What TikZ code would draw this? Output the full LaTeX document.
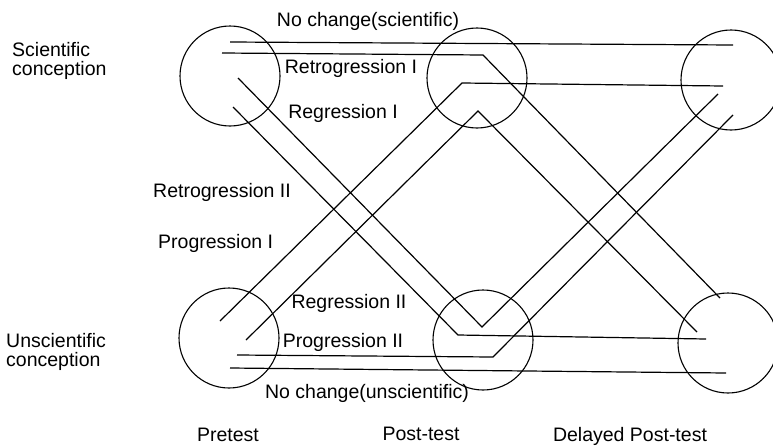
\documentclass[tikz,border=0pt]{standalone}
\usepackage{fontspec}
\setmainfont{Liberation Sans}

\begin{document}
\begin{tikzpicture}[x=1pt,y=-1pt,
    stage/.style={circle,draw,line width=1.1pt,minimum size=100pt,inner sep=0pt},
    lbl/.style={font=\fontsize{19.5}{19.5}\selectfont,inner sep=0pt},
    track/.style={line width=1.2pt}]
    \useasboundingbox (0,0) rectangle (773,447);
    % the six circles
    \node[stage] (preS) at (230,76) {};
    \node[stage] (postS) at (477,78) {};
    \node[stage] (delS) at (731,80) {};
    \node[stage] (preU) at (229,338) {};
    \node[stage] (postU) at (483,340) {};
    \node[stage] (delU) at (728,343) {};
    % end points and bends
    \coordinate (nochS1) at (230,42);  \coordinate (nochS2) at (733,45);
    \coordinate (retroI1) at (222,53); \coordinate (retroI2) at (483,55);
    \coordinate (retroI3) at (720,298);
    \coordinate (regrI1) at (238,78);  \coordinate (regrI2) at (482,327);
    \coordinate (regrI3) at (718,94);
    \coordinate (retroII1) at (233,107); \coordinate (retroII2) at (458,335);
    \coordinate (retroII3) at (706,339);
    \coordinate (progI1) at (220,321); \coordinate (progI2) at (462,83);
    \coordinate (progI3) at (723,86);
    \coordinate (regrII1) at (246,340); \coordinate (regrII2) at (478,111);
    \coordinate (regrII3) at (697,332);
    \coordinate (progII1) at (237,355); \coordinate (progII2) at (493,357);
    \coordinate (progII3) at (733,115);
    \coordinate (nochU1) at (230,368); \coordinate (nochU2) at (726,373);
    % the eight tracks
    \draw[track] (nochS1) -- (nochS2);
    \draw[track] (retroI1) -- (retroI2) -- (retroI3);
    \draw[track] (regrI1) -- (regrI2) -- (regrI3);
    \draw[track] (retroII1) -- (retroII2) -- (retroII3);
    \draw[track] (progI1) -- (progI2) -- (progI3);
    \draw[track] (regrII1) -- (regrII2) -- (regrII3);
    \draw[track] (progII1) -- (progII2) -- (progII3);
    \draw[track] (nochU1) -- (nochU2);
    % track labels
    \node[lbl] (tNochS) at (368,21) {No change(scientific)};
    \node[lbl] (tRetroI) at (351,68) {Retrogression I};
    \node[lbl] (tRegrI) at (343,113) {Regression I};
    \node[lbl,anchor=west] (tRetroII) at (153,192) {Retrogression II};
    \node[lbl,anchor=west] (tProgI) at (158,243) {Progression I};
    \node[lbl] (tRegrII) at (349,303) {Regression II};
    \node[lbl] (tProgII) at (343,342) {Progression II};
    \node[lbl] (tNochU) at (367,393) {No change(unscientific)};
    % row and column labels
    \node[lbl,anchor=west,align=left] (rowS) at (12,61) {Scientific\\conception};
    \node[lbl,anchor=west,align=left] (rowU) at (6,352) {Unscientific\\conception};
    \node[lbl] (colPre) at (228,435) {Pretest};
    \node[lbl] (colPost) at (421,434) {Post-test};
    \node[lbl] (colDel) at (630,436) {Delayed Post-test};
\end{tikzpicture}
\end{document}
